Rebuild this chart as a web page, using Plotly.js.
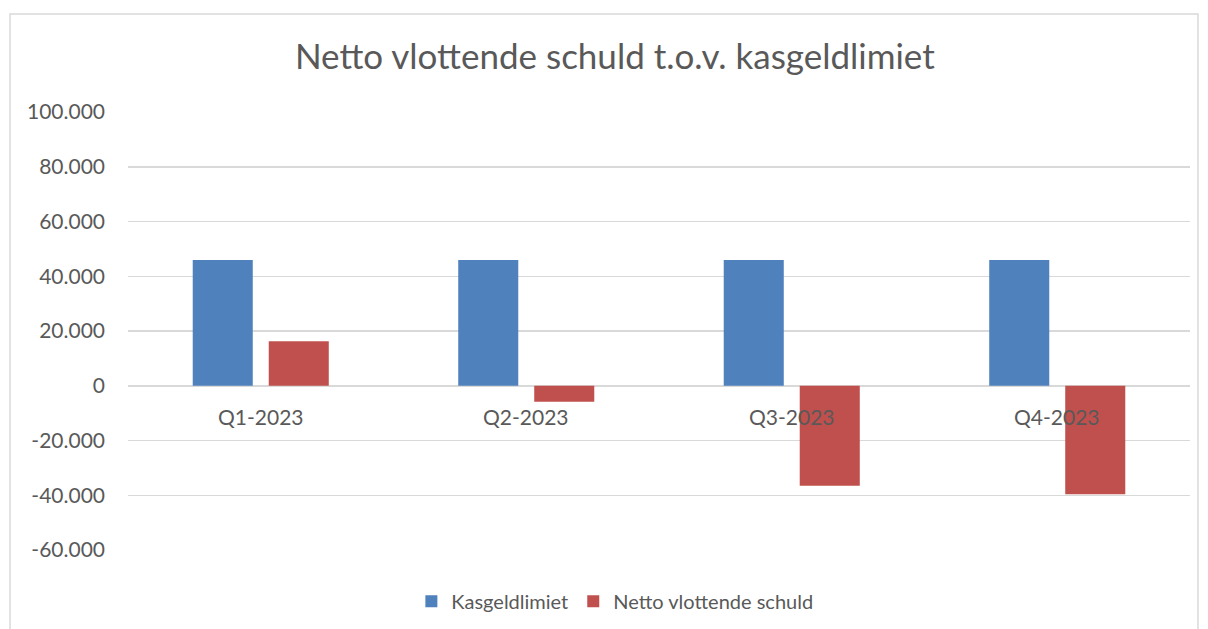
<!DOCTYPE html>
<html>
<head>
<meta charset="utf-8">
<script src="https://cdn.plot.ly/plotly-3.0.1.min.js"></script>
<style>html,body{margin:0;padding:0;background:#fff}#chart{width:1208px;height:629px}</style>
</head>
<body>
<div id="chart"></div>
<script>
const categories = ["Q1-2023", "Q2-2023", "Q3-2023", "Q4-2023"];
const kasgeldlimiet = [45900, 45900, 45900, 45900];
const nettoVlottendeSchuld = [16300, -5800, -36500, -39600];
const seriesNames = ["Kasgeldlimiet", "Netto vlottende schuld"];
const yTickValues = [-60000, -40000, -20000, 0, 20000, 40000, 60000, 80000, 100000];
const yTickLabels = ["-60.000", "-40.000", "-20.000", "0", "20.000", "40.000", "60.000", "80.000", "100.000"];

const FONT = "Lato, 'Open Sans', sans-serif";
const TXT = "#595959";

const traces = [
  {type: "bar", name: seriesNames[0], x: categories, y: kasgeldlimiet,
   marker: {color: "#4F81BD", line: {color: "#4F81BD", width: 0}}, hoverinfo: "y"},
  {type: "bar", name: seriesNames[1], x: categories, y: nettoVlottendeSchuld,
   marker: {color: "#C0504D", line: {color: "#C0504D", width: 0}}, hoverinfo: "y"}
];

const annotations = categories.map(c => ({
  x: c, y: 0, xref: "x", yref: "y", text: c, showarrow: false,
  yanchor: "middle", yshift: -31, font: {family: FONT, size: 21, color: TXT}
}));

const layout = {
  width: 1208, height: 629,
  margin: {l: 128, r: 18, t: 112, b: 79},
  paper_bgcolor: "#fff", plot_bgcolor: "#fff",
  title: {text: "Netto vlottende schuld t.o.v. kasgeldlimiet", x: 0.509, xref: "container",
          xanchor: "center", y: 0.909, yref: "container", yanchor: "middle",
          font: {family: FONT, size: 35, color: TXT}},
  barmode: "group", bargap: 0.4275, bargroupgap: 0.21,
  xaxis: {showticklabels: false, showgrid: false, zeroline: false, showline: false, ticks: ""},
  yaxis: {range: [-60000, 100000], tickvals: yTickValues, ticktext: yTickLabels,
          showgrid: true, gridcolor: "#d9d9d9", gridwidth: 1.5,
          zeroline: true, zerolinecolor: "#d9d9d9", zerolinewidth: 1.5,
          showline: false, ticks: "", ticklabelstandoff: 22,
          tickfont: {family: FONT, size: 21, color: TXT}},
  showlegend: true,
  legend: {orientation: "h", x: 0.509, xref: "container", xanchor: "center",
           y: 0.044, yref: "container", yanchor: "middle",
           font: {family: FONT, size: 20, color: TXT}, itemwidth: 30,
           bgcolor: "rgba(0,0,0,0)"},
  annotations: annotations,
  shapes: [{type: "rect", xref: "paper", yref: "paper", x0: -0.1111, x1: 1.0075, y0: -0.3, y1: 1.2237,
            line: {color: "#d9d9d9", width: 1.5}, fillcolor: "rgba(0,0,0,0)", layer: "below"}]
};

Plotly.newPlot("chart", traces, layout, {displayModeBar: false, staticPlot: true});
</script>
</body>
</html>
